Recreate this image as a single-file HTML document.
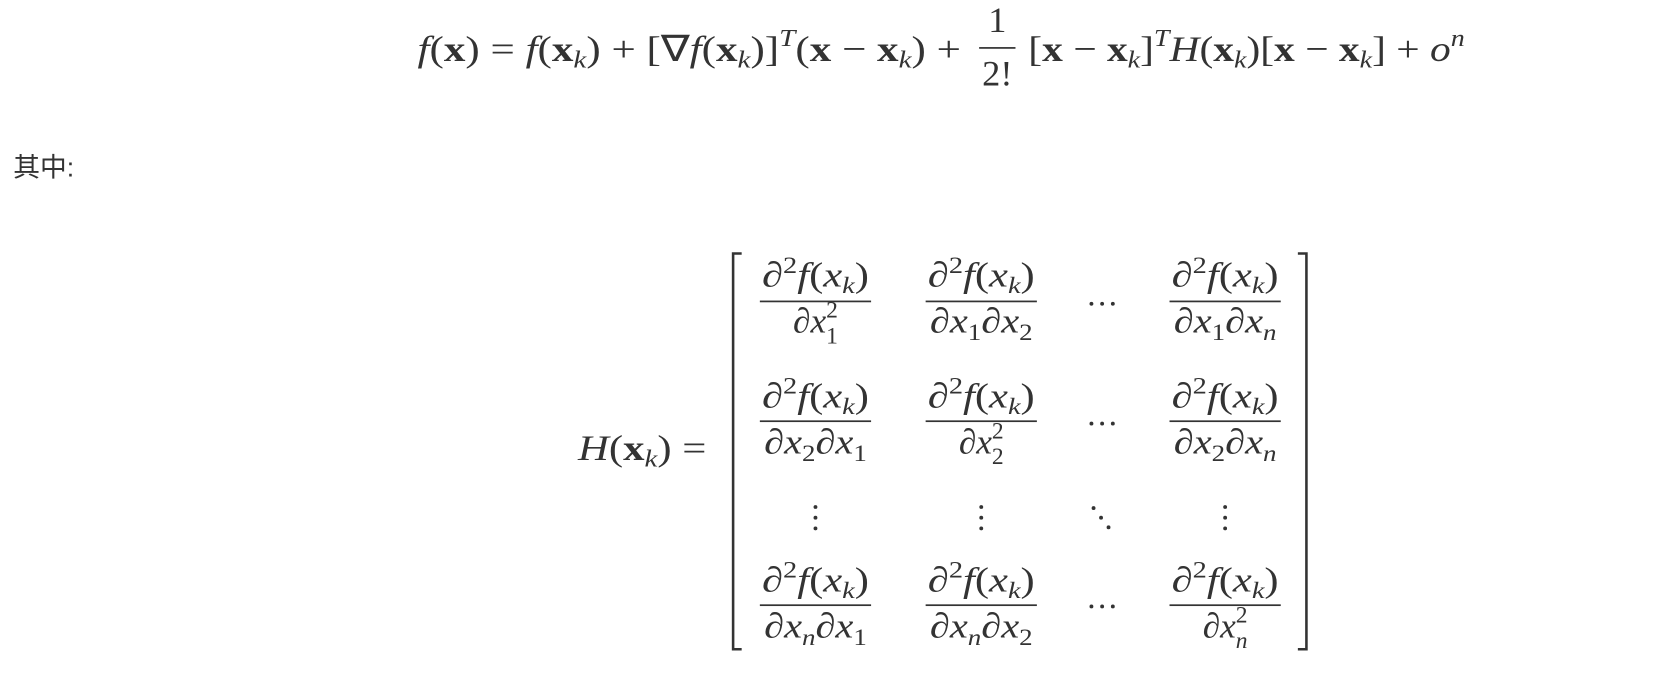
<!DOCTYPE html>
<html><head><meta charset="utf-8"><style>
html,body{margin:0;padding:0;background:#fff;width:1678px;height:676px;overflow:hidden}
svg{display:block}
svg text{font-family:"Liberation Serif","Times New Roman",serif;fill:#333}
.i{font-style:italic}
.b{font-weight:bold;font-style:normal}
.n{font-style:normal}
</style></head><body>
<svg width="1678" height="676" viewBox="0 0 1568 632" xmlns="http://www.w3.org/2000/svg" font-family="Liberation Serif, serif">
<text x="390" y="57" font-size="34" class="i" textLength="508" lengthAdjust="spacingAndGlyphs">f<tspan class="n">(</tspan><tspan class="b">x</tspan><tspan class="n">) = </tspan>f<tspan class="n">(</tspan><tspan class="b">x</tspan><tspan font-size="23" dy="6">k</tspan><tspan class="n" dy="-6">) + [∇</tspan>f<tspan class="n">(</tspan><tspan class="b">x</tspan><tspan font-size="23" dy="6">k</tspan><tspan class="n" dy="-6">)]</tspan><tspan font-size="23" dy="-14">T</tspan><tspan class="n" dy="14">(</tspan><tspan class="b">x</tspan><tspan class="n"> − </tspan><tspan class="b">x</tspan><tspan font-size="23" dy="6">k</tspan><tspan class="n" dy="-6">) +</tspan></text>
<text x="932" y="30" font-size="34" class="n" text-anchor="middle">1</text>
<rect x="915" y="44" width="34" height="1.6" fill="#333"/>
<text x="932" y="80" font-size="34" class="n" text-anchor="middle">2!</text>
<text x="961" y="57" font-size="34" class="i" textLength="408" lengthAdjust="spacingAndGlyphs"><tspan class="n">[</tspan><tspan class="b">x</tspan><tspan class="n"> − </tspan><tspan class="b">x</tspan><tspan font-size="23" dy="6">k</tspan><tspan class="n" dy="-6">]</tspan><tspan font-size="23" dy="-14">T</tspan><tspan dy="14">H</tspan><tspan class="n">(</tspan><tspan class="b">x</tspan><tspan font-size="23" dy="6">k</tspan><tspan class="n" dy="-6">)[</tspan><tspan class="b">x</tspan><tspan class="n"> − </tspan><tspan class="b">x</tspan><tspan font-size="23" dy="6">k</tspan><tspan class="n" dy="-6">] + </tspan>o<tspan font-size="23" dy="-14">n</tspan></text>

<text x="12" y="165" font-size="25" style="font-family:'Liberation Sans','Noto Sans CJK SC',sans-serif">其中:</text>

<text x="540" y="430" font-size="34" class="i" textLength="120" lengthAdjust="spacingAndGlyphs">H<tspan class="n">(</tspan><tspan class="b">x</tspan><tspan font-size="23" dy="6">k</tspan><tspan class="n" dy="-6">) =</tspan></text>

<path d="M693,237 H685 V607 H693" fill="none" stroke="#333" stroke-width="2.4"/>
<path d="M1213,237 H1221 V607 H1213" fill="none" stroke="#333" stroke-width="2.4"/>

<g font-size="33" class="i" text-anchor="middle">
<text x="762" y="268" textLength="100" lengthAdjust="spacingAndGlyphs">∂<tspan class="n" font-size="22" dy="-13">2</tspan><tspan dy="13">f</tspan><tspan class="n">(</tspan>x<tspan font-size="22" dy="6">k</tspan><tspan class="n" dy="-6">)</tspan></text>
<text x="917" y="268" textLength="100" lengthAdjust="spacingAndGlyphs">∂<tspan class="n" font-size="22" dy="-13">2</tspan><tspan dy="13">f</tspan><tspan class="n">(</tspan>x<tspan font-size="22" dy="6">k</tspan><tspan class="n" dy="-6">)</tspan></text>
<text x="1145" y="268" textLength="100" lengthAdjust="spacingAndGlyphs">∂<tspan class="n" font-size="22" dy="-13">2</tspan><tspan dy="13">f</tspan><tspan class="n">(</tspan>x<tspan font-size="22" dy="6">k</tspan><tspan class="n" dy="-6">)</tspan></text>
<text x="762" y="381" textLength="100" lengthAdjust="spacingAndGlyphs">∂<tspan class="n" font-size="22" dy="-13">2</tspan><tspan dy="13">f</tspan><tspan class="n">(</tspan>x<tspan font-size="22" dy="6">k</tspan><tspan class="n" dy="-6">)</tspan></text>
<text x="917" y="381" textLength="100" lengthAdjust="spacingAndGlyphs">∂<tspan class="n" font-size="22" dy="-13">2</tspan><tspan dy="13">f</tspan><tspan class="n">(</tspan>x<tspan font-size="22" dy="6">k</tspan><tspan class="n" dy="-6">)</tspan></text>
<text x="1145" y="381" textLength="100" lengthAdjust="spacingAndGlyphs">∂<tspan class="n" font-size="22" dy="-13">2</tspan><tspan dy="13">f</tspan><tspan class="n">(</tspan>x<tspan font-size="22" dy="6">k</tspan><tspan class="n" dy="-6">)</tspan></text>
<text x="762" y="553" textLength="100" lengthAdjust="spacingAndGlyphs">∂<tspan class="n" font-size="22" dy="-13">2</tspan><tspan dy="13">f</tspan><tspan class="n">(</tspan>x<tspan font-size="22" dy="6">k</tspan><tspan class="n" dy="-6">)</tspan></text>
<text x="917" y="553" textLength="100" lengthAdjust="spacingAndGlyphs">∂<tspan class="n" font-size="22" dy="-13">2</tspan><tspan dy="13">f</tspan><tspan class="n">(</tspan>x<tspan font-size="22" dy="6">k</tspan><tspan class="n" dy="-6">)</tspan></text>
<text x="1145" y="553" textLength="100" lengthAdjust="spacingAndGlyphs">∂<tspan class="n" font-size="22" dy="-13">2</tspan><tspan dy="13">f</tspan><tspan class="n">(</tspan>x<tspan font-size="22" dy="6">k</tspan><tspan class="n" dy="-6">)</tspan></text>

<text x="762" y="311">∂x<tspan class="n" font-size="22" dy="-14">2</tspan><tspan class="n" font-size="22" dx="-11" dy="24">1</tspan></text>
<text x="917" y="311" textLength="96" lengthAdjust="spacingAndGlyphs">∂x<tspan class="n" font-size="22" dy="7">1</tspan><tspan dy="-7">∂x</tspan><tspan class="n" font-size="22" dy="7">2</tspan></text>
<text x="1145" y="311" textLength="96" lengthAdjust="spacingAndGlyphs">∂x<tspan class="n" font-size="22" dy="7">1</tspan><tspan dy="-7">∂x</tspan><tspan font-size="22" dy="7">n</tspan></text>
<text x="762" y="424" textLength="96" lengthAdjust="spacingAndGlyphs">∂x<tspan class="n" font-size="22" dy="7">2</tspan><tspan dy="-7">∂x</tspan><tspan class="n" font-size="22" dy="7">1</tspan></text>
<text x="917" y="424">∂x<tspan class="n" font-size="22" dy="-14">2</tspan><tspan class="n" font-size="22" dx="-11" dy="24">2</tspan></text>
<text x="1145" y="424" textLength="96" lengthAdjust="spacingAndGlyphs">∂x<tspan class="n" font-size="22" dy="7">2</tspan><tspan dy="-7">∂x</tspan><tspan font-size="22" dy="7">n</tspan></text>
<text x="762" y="596" textLength="96" lengthAdjust="spacingAndGlyphs">∂x<tspan font-size="22" dy="7">n</tspan><tspan dy="-7">∂x</tspan><tspan class="n" font-size="22" dy="7">1</tspan></text>
<text x="917" y="596" textLength="96" lengthAdjust="spacingAndGlyphs">∂x<tspan font-size="22" dy="7">n</tspan><tspan dy="-7">∂x</tspan><tspan class="n" font-size="22" dy="7">2</tspan></text>
<text x="1145" y="596">∂x<tspan class="n" font-size="22" dy="-14">2</tspan><tspan font-size="22" dx="-11" dy="24">n</tspan></text>
</g>
<g fill="#333">
<rect x="710" y="281" width="104" height="1.6"/><rect x="865" y="281" width="104" height="1.6"/><rect x="1093" y="281" width="104" height="1.6"/>
<rect x="710" y="393" width="104" height="1.6"/><rect x="865" y="393" width="104" height="1.6"/><rect x="1093" y="393" width="104" height="1.6"/>
<rect x="710" y="565" width="104" height="1.6"/><rect x="865" y="565" width="104" height="1.6"/><rect x="1093" y="565" width="104" height="1.6"/>
<circle cx="1020" cy="284" r="1.8"/><circle cx="1030" cy="284" r="1.8"/><circle cx="1040" cy="284" r="1.8"/>
<circle cx="1020" cy="396" r="1.8"/><circle cx="1030" cy="396" r="1.8"/><circle cx="1040" cy="396" r="1.8"/>
<circle cx="1020" cy="567" r="1.8"/><circle cx="1030" cy="567" r="1.8"/><circle cx="1040" cy="567" r="1.8"/>
<circle cx="762" cy="474" r="1.8"/><circle cx="762" cy="484" r="1.8"/><circle cx="762" cy="494" r="1.8"/>
<circle cx="917" cy="474" r="1.8"/><circle cx="917" cy="484" r="1.8"/><circle cx="917" cy="494" r="1.8"/>
<circle cx="1145" cy="474" r="1.8"/><circle cx="1145" cy="484" r="1.8"/><circle cx="1145" cy="494" r="1.8"/>
<circle cx="1022" cy="475" r="1.8"/><circle cx="1029" cy="484" r="1.8"/><circle cx="1036" cy="493" r="1.8"/>
</g>
</svg>
</body></html>
